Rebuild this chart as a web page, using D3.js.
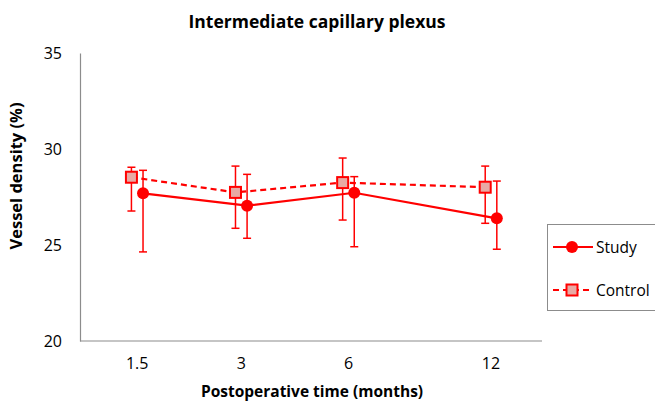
<!DOCTYPE html>
<html>
<head>
<meta charset="utf-8">
<script src="https://cdn.jsdelivr.net/npm/d3@7"></script>
<style>
  body { margin: 0; background: #fff; }
  text { font-family: "Open Sans", Lato, sans-serif; fill: #000; }
</style>
</head>
<body>
<svg id="chart" width="655" height="403"></svg>
<script>
// data
var months = ['1.5', '3', '6', '12'];
var slot = [1, 2, 3.03, 4.4];   // horizontal place of each time point

var study = [27.69, 27.05, 27.72, 26.39];
var studyLo = [24.64, 25.35, 24.91, 24.78];
var studyHi = [28.89, 28.68, 28.56, 28.33];

var control = [28.53, 27.74, 28.25, 28.01];
var controlLo = [26.77, 25.87, 26.30, 26.13];
var controlHi = [29.05, 29.11, 29.53, 29.11];

var yTicks = [20, 25, 30, 35];

var svg = d3.select('#chart');
var red = '#ff0000';

var x = d3.scaleLinear().domain([0.45, 4.89]).range([80, 542]);
var y = d3.scaleLinear().domain([20, 35]).range([341, 53]);

// title
svg.append('text')
  .attr('x', 317).attr('y', 28)
  .attr('text-anchor', 'middle')
  .style('font-size', '17.5px').style('font-weight', 'bold')
  .text('Intermediate capillary plexus');

// axes
var yAxis = d3.axisLeft(y).tickValues(yTicks).tickSize(0).tickPadding(18);
var gy = svg.append('g').attr('transform', 'translate(80,0)').call(yAxis);
gy.select('.domain').attr('stroke', '#8c8c8c').attr('stroke-width', 1.2);
gy.selectAll('text').style('font-size', '16px')
  .style('font-family', '"Open Sans", sans-serif').attr('fill', '#000');

var gx = svg.append('g').attr('transform', 'translate(0,341)');
gx.append('line').attr('x1', 80).attr('x2', 542)
  .attr('stroke', '#8c8c8c').attr('stroke-width', 1.2);
gx.selectAll('text').data(months).join('text')
  .attr('x', function(d, i){ return x(slot[i]); })
  .attr('y', 28)
  .attr('text-anchor', 'middle')
  .style('font-size', '16px')
  .text(function(d){ return d; });

svg.append('text')
  .attr('x', 312).attr('y', 397)
  .attr('text-anchor', 'middle')
  .style('font-size', '15.5px').style('font-weight', 'bold')
  .text('Postoperative time (months)');

svg.append('text')
  .attr('transform', 'translate(22,176) rotate(-90)')
  .attr('text-anchor', 'middle')
  .style('font-size', '16.5px').style('font-weight', 'bold')
  .text('Vessel density (%)');

// draw one series
function drawSeries(vals, lo, hi, dx, dashed, marker){
  var g = svg.append('g');
  var line = d3.line()
    .x(function(d, i){ return x(slot[i]) + dx; })
    .y(function(d){ return y(d); });

  g.append('path').datum(vals)
    .attr('d', line)
    .attr('fill', 'none')
    .attr('stroke', red)
    .attr('stroke-width', 2.2)
    .attr('stroke-dasharray', dashed ? '6,4' : null);

  // error bars
  vals.forEach(function(v, i){
    var cx = x(slot[i]) + dx;
    g.append('line').attr('x1', cx).attr('x2', cx)
      .attr('y1', y(lo[i])).attr('y2', y(hi[i]))
      .attr('stroke', red).attr('stroke-width', 1.5);
    [lo[i], hi[i]].forEach(function(e){
      g.append('line').attr('x1', cx - 4).attr('x2', cx + 4)
        .attr('y1', y(e)).attr('y2', y(e))
        .attr('stroke', red).attr('stroke-width', 1.5);
    });
  });

  vals.forEach(function(v, i){
    marker(g, x(slot[i]) + dx, y(v));
  });
}

function circleMark(g, cx, cy){
  g.append('circle').attr('cx', cx).attr('cy', cy).attr('r', 6)
    .attr('fill', red);
}
function squareMark(g, cx, cy){
  g.append('rect').attr('x', cx - 5.5).attr('y', cy - 5.5)
    .attr('width', 11).attr('height', 11)
    .attr('fill', '#e8aaa4').attr('stroke', red).attr('stroke-width', 2);
}

drawSeries(control, controlLo, controlHi, -5.8, true, squareMark);
drawSeries(study, studyLo, studyHi, 5.8, false, circleMark);

// legend
var lg = svg.append('g');
lg.append('rect').attr('x', 547.5).attr('y', 224.5)
  .attr('width', 120).attr('height', 86)
  .attr('fill', '#fff').attr('stroke', '#8c8c8c').attr('stroke-width', 1);

var legendItems = [
  { name: 'Study', dashed: false, marker: circleMark, y: 247 },
  { name: 'Control', dashed: true, marker: squareMark, y: 290 }
];
legendItems.forEach(function(it){
  lg.append('line').attr('x1', 553).attr('x2', 593)
    .attr('y1', it.y).attr('y2', it.y)
    .attr('stroke', red).attr('stroke-width', 2.2)
    .attr('stroke-dasharray', it.dashed ? '6,4' : null);
  it.marker(lg, 572, it.y);
  lg.append('text').attr('x', 596).attr('y', it.y + 5.5)
    .style('font-size', '15.5px')
    .text(it.name);
});
</script>
</body>
</html>
